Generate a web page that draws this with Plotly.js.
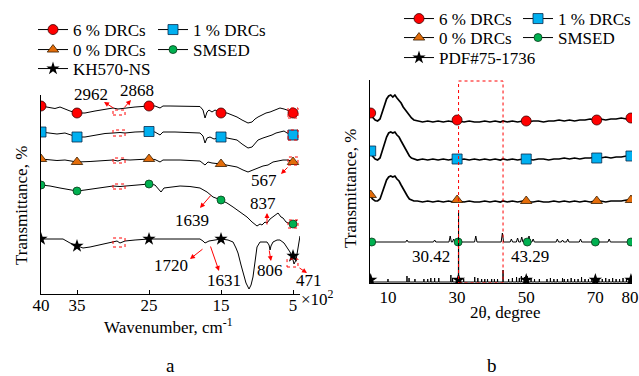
<!DOCTYPE html>
<html><head><meta charset="utf-8">
<script src="https://cdn.plot.ly/plotly-3.0.1.min.js"></script>
<style>html,body{margin:0;padding:0;background:#fff}#chart{width:639px;height:376px}</style>
</head><body><div id="chart"></div>
<script>
// ---------------- Panel a: FTIR (wavenumber, x10^2 cm^-1; stacked transmittance) ----------------
const ftirTicks = [40, 35, 25, 15, 5];
const ftirMarkX = [40, 35, 25, 15, 5];

const ftir6X = [40,38.75,38.06,37.36,36.67,35.97,35,33.89,32.5,31.11,30,29.31,28.33,26.94,25,24.17,23.47,23.06,22.08,20,17.92,17.5,17.22,16.94,16.67,16.25,15.83,15,14.17,13.47,12.78,12.08,11.25,10.69,10.28,9.86,9.31,8.75,8.19,7.5,6.81,6.25,5.83,5,4.44];
const ftir6Y = [188,186,185.5,187,185,183,181,181,183,185,186,185,186,187,188,188,186,188,188,188,187.5,184,176,182,184,182,184,181,181,179,177,174,171,172,175,177,179,181,182,184,186,185,184,181,179];
const ftir6M = [188,181,188,181,181];

const ftir1X = [40,38.75,37.78,36.67,35,33.89,32.5,31.11,30,29.03,28.33,26.94,25,24.17,23.47,23.06,21.39,17.92,17.5,17.22,16.94,16.53,15.97,15,14.17,13.47,12.78,12.08,11.25,10.69,10.28,9.86,9.17,8.61,7.92,7.36,6.81,6.25,5.83,5,4.44];
const ftir1Y = [162,161,160,161,157,157,159,160.5,161,161.5,161,162,162.5,162,159,162,162,161,158,151,156,157,155,157,156,155,154,150,146,147,151,154,156,157,159,161,162,163,161,159,154];
const ftir1M = [162,157,162.5,157,159];

const ftir0X = [40,38.75,37.78,36.67,35,33.19,31.11,30,29.31,28.75,27.64,25,24.17,23.47,23.06,20.69,17.92,17.5,17.22,16.81,16.25,15,13.75,12.78,11.94,11.25,10.56,9.86,9.17,8.47,7.78,7.08,6.39,5.69,5,4.44];
const ftir0Y = [135,134,133.5,134,132,132.5,133.5,134,133,134.5,134,135,134.5,132,134,134,133,131,129,132,131,130,128,127,124,122,124,126,128,129,132,133,134,134,132,131];
const ftir0M = [135,132,135,130,132];

const ftirSX = [40,38.75,37.36,35.97,35,33.89,32.5,31.11,30,29.03,27.64,26.25,25,24.17,23.75,23.33,22.92,22.08,20.69,19.31,17.92,16.94,16.11,15,14.17,13.33,12.36,11.39,10.69,10,9.58,9.31,8.89,8.61,8.19,7.78,7.36,7.08,6.67,6.39,5.97,5.69,5,4.44];
const ftirSY = [109,108,106,104,103,104,105.5,107,108,107.5,108.5,109.5,110,109,106,102,106,107,108,107.5,106,102,97,94,91,87,82,77,72,68,70,69,72,71,75,77,79,81,77,76,72,71,70,74];
const ftirSM = [109,103,110,94,70];

const ftirKX = [40,38.06,36.94,35.97,35,34.17,33.19,31.81,30.42,30,29.44,29.03,28.33,26.94,25,22.08,17.92,17.5,17.22,16.94,16.67,15.83,15,14.03,13.33,12.92,12.64,12.22,11.94,11.53,11.11,10.83,10.56,10.28,10,9.58,9.03,8.61,8.33,8.19,8.06,7.78,7.22,6.81,6.25,5.83,5.42,5.14,4.86,4.58,4.31,4.03];
const ftirKY = [55,55,55,51,48,46,47,49,51,52,53,51,53,54,55,55,55,53,51,52,53,54,55,54,52,46,41,29,21,11,5,9,17,32,47,52,52,52,49,44,48,52,54,54,51,47,42,38,30,34,44,58];
const ftirKM = [55,48,55,55,38];

// ---------------- Panel b: XRD (2theta, degree; stacked intensity) ----------------
const xrdTicks = [10, 30, 50, 70, 80];
const xrdAngle = [4.8,5.5,6.3,7.0,7.7,8.4,9.0,9.6,10.2,10.8,11.4,12.0,12.6,13.2,13.8,14.4,15.0,15.6,16.2,16.8,17.5,18.5,20,21.5,23,24.5,26,27.5,29,30.4,32,33.5,35,36.5,38,39.5,41,42.5,43.3,44.5,46,47.5,49,50.5,52,53.5,55,56.5,58,59.5,61,62.5,64,65.5,67,68.5,70,71.5,73,74.5,76,77.5,79,80.3];
const xrd6Y = [170,166,163,162,164,172,179,184,187,188,186,188,185,183,180,176,173,170,167,165,163,162,161,162,161,162,161,162,161,162,161,162,161,161,162,161,162,161,162,161,162,161,162,161,162,162,161,162,162,163,162,163,162,163,163,164,163,164,163,164,164,165,164,165];
const xrd1Y = [132,127,124,123,125,133,140,146,150,151,150,151,148,146,142,138,134,130,127,125,124,123,124,123,124,123,124,123,124,123,124,123,124,123,124,123,124,123,124,123,124,123,124,124,123,124,124,123,124,124,125,124,125,124,125,125,126,125,126,125,126,126,127,127];
const xrd0Y = [88,84,82,82,84,91,98,103,106,107,106,107,104,102,98,94,90,87,84,83,82,82,81,82,81,82,81,82,81,82,81,82,81,81,82,81,82,81,82,81,82,81,82,81,81,82,81,81,82,81,82,81,82,81,82,81,82,82,81,82,82,82,83,82];
const xrdMarkX = [5, 30, 50, 70.4, 80.3];
const xrd6M = [170,163,162,163,165];
const xrd1M = [132,124,124,125,127];
const xrd0M = [88,83,82,82,83];

const smsedBase = 41;
const smsedPeakX = [15.5,23.5,28.0,29.0,35.4,43.1,45.7,47.5,48.7,50.8,52.0,59.0,60.5,62.0,65.7,74.0];
const smsedPeakH = [2,2,6,3,6,9,3,4,5,6,3,3,2,3,3,3];
const smsedMarkX = [5.3, 30.3, 50.3, 70, 80.3];
const smsedMarkY = [41,41,41,41,41];

const pdfBase = 1;
const pdfX = [10.0,15.5,16.1,17.8,20.4,21.5,22.4,23.5,24.7,28.2,28.7,30.42,31.9,35.1,36.0,37.1,38.0,38.8,40.0,40.8,41.7,43.29,44.9,46.0,47.2,48.0,48.6,49.5,50.3,51.4,52.4,53.8,56,57,58,59,60.5,61,62,63,64,65,66,67,68,69,71,72,73,74,75,76,77,78,79];
const pdfH = [3,6,4,3,3,3,4,4,4,7,4,72,3,5,4,3,3,3,3,3,3,12,3,4,5,4,6,5,6,4,3,3,3,4,3,3,4,3,3,4,3,3,5,3,3,4,3,3,4,3,4,3,3,4,3];
const pdfMarkX = [5, 30.4, 50, 70, 80.3];
const pdfMarkY = [3,3,3,3,3];

const peakMarks = [30.42, 43.29];

// ---------------- build ----------------
const FONT = 'Liberation Serif, Times New Roman, serif';
const mk6 = {symbol:'circle', size:10, color:'#FF0000', line:{color:'#3a0000', width:0.8}};
const mk1 = {symbol:'square', size:10, color:'#00B0F0', line:{color:'#0b2a4a', width:0.8}};
const mk0 = {symbol:'triangle-up', size:10, color:'#E36C0A', line:{color:'#3a1e00', width:0.8}};
const mkS = {symbol:'circle', size:8, color:'#00B050', line:{color:'#0b3a1a', width:0.8}};
const mkK = {symbol:'star', size:10, color:'#000000', line:{width:0}};

function series(xs, ys, mx, my, name, mk, xa, ya, leg, lw) {
  return [
    {x: xs, y: ys, mode:'lines', line:{color:'#000', width:lw}, xaxis:xa, yaxis:ya, showlegend:false, hoverinfo:'skip'},
    {x: mx, y: my, mode:'markers', marker: mk, xaxis:xa, yaxis:ya, showlegend:false, hoverinfo:'skip'},
    {x:[null], y:[null], mode:'lines+markers', name:name, line:{color:'#000', width:1}, marker: mk,
     xaxis:xa, yaxis:ya, legend:leg, showlegend:true, hoverinfo:'skip'}
  ];
}
function sticks(px, ph, base, xmin, xmax, w) {
  const xs=[xmin], ys=[base];
  for (let i=0;i<px.length;i++){ xs.push(px[i]-w, px[i], px[i]+w); ys.push(base, base+ph[i], base); }
  xs.push(xmax); ys.push(base);
  return {xs, ys};
}
const sm = sticks(smsedPeakX, smsedPeakH, smsedBase, 4.8, 80.6, 0.35);
const pd = sticks(pdfX, pdfH, pdfBase, 4.8, 80.6, 0.05);

let data = [];
data = data.concat(series(ftir6X, ftir6Y, ftirMarkX, ftir6M, '6 % DRCs', mk6, 'x', 'y', 'legend2', 1));
data = data.concat(series(ftir1X, ftir1Y, ftirMarkX, ftir1M, '1 % DRCs', mk1, 'x', 'y', 'legend3', 1));
data = data.concat(series(ftir0X, ftir0Y, ftirMarkX, ftir0M, '0 % DRCs', mk0, 'x', 'y', 'legend4', 1));
data = data.concat(series(ftirSX, ftirSY, ftirMarkX, ftirSM, 'SMSED', mkS, 'x', 'y', 'legend5', 1));
data = data.concat(series(ftirKX, ftirKY, ftirMarkX, ftirKM, 'KH570-NS', mkK, 'x', 'y', 'legend6', 1));

data = data.concat(series(xrdAngle, xrd6Y, xrdMarkX, xrd6M, '6 % DRCs', mk6, 'x2', 'y2', 'legend7', 1.7));
data = data.concat(series(xrdAngle, xrd1Y, xrdMarkX, xrd1M, '1 % DRCs', mk1, 'x2', 'y2', 'legend8', 1.7));
data = data.concat(series(xrdAngle, xrd0Y, xrdMarkX, xrd0M, '0 % DRCs', mk0, 'x2', 'y2', 'legend9', 1.7));
data = data.concat(series(sm.xs, sm.ys, smsedMarkX, smsedMarkY, 'SMSED', mkS, 'x2', 'y2', 'legend10', 1));
data = data.concat(series(pd.xs, pd.ys, pdfMarkX, pdfMarkY, 'PDF#75-1736', mkK, 'x2', 'y2', 'legend11', 1));

// layout helpers (pixel -> paper)
const W = 639, H = 376;
const PX = p => p / W, PY = p => 1 - p / H;
const tf = {family: FONT, size: 17, color: '#000'};

function txt(t, x, y, extra) {
  return Object.assign({text:t, xref:'paper', yref:'paper', x:PX(x), y:PY(y), xanchor:'center', yanchor:'middle',
    showarrow:false, font:tf}, extra||{});
}
function arr(hx, hy, tx, ty) {
  return {text:'', xref:'paper', yref:'paper', x:PX(hx), y:PY(hy), ax:tx-hx, ay:ty-hy, showarrow:true,
    arrowhead:2, arrowsize:1, arrowwidth:1, arrowcolor:'#FF0000', standoff:0, startstandoff:0};
}
const annotations = [
  txt('2962', 91, 94), txt('2868', 137, 90),
  txt('567', 264, 180), txt('837', 263, 203), txt('1639', 192, 220), txt('1720', 171, 265),
  txt('1631', 224, 280), txt('806', 270, 270), txt('471', 309, 280),
  txt('×10<sup>2</sup>', 317, 298),
  txt('Wavenumber, cm<sup>-1</sup>', 168, 326),
  txt('2θ, degree', 505, 312),
  txt('Transmittance, %', 21, 206, {textangle:-90}),
  txt('Transmittance, %', 350, 189, {textangle:-90}),
  txt('30.42', 431, 256), txt('43.29', 530, 256),
  txt('a', 171, 365, {font:{family:FONT, size:19, color:'#000'}}),
  txt('b', 492, 365, {font:{family:FONT, size:19, color:'#000'}}),
  arr(104, 102, 115, 109), arr(131, 100, 123, 109),
  arr(281, 174, 289, 166), arr(267, 213, 267, 226), arr(200, 208, 212, 194),
  arr(190, 259, 204, 248), arr(219, 271, 210, 245), arr(271, 261, 269, 249), arr(307, 273, 298, 267)
];

const dashed = {color:'#FF0000', width:1, dash:'dot'};
function box(x0, x1, y0, y1) { return {type:'rect', xref:'x', yref:'y', x0, x1, y0, y1, line:dashed, layer:'above'}; }
const shapes = [
  box(30, 28.33, 179, 184), box(30, 28.33, 158, 164), box(30, 28.33, 131, 136), box(30, 28.33, 105, 110), box(30, 28.33, 47, 56),
  box(5.69, 4.31, 176, 186), box(5.69, 4.31, 154, 164), box(5.69, 4.31, 129, 137), box(5.69, 4.31, 66, 74), box(5.83, 4.31, 27, 35),
  {type:'rect', xref:'x2', yref:'y2', x0:peakMarks[0], x1:peakMarks[1], y0:0, y1:202, line:dashed, layer:'above'}
];

// one legend per entry: (left px, row-centre px)
function leg(x, yc) {
  return {orientation:'h', x:PX(x), y:PY(yc - 18), xanchor:'left', yanchor:'top', bgcolor:'rgba(0,0,0,0)',
    font:tf, itemwidth:30, tracegroupgap:0, borderwidth:0, itemclick:false};
}

const layout = {
  width: W, height: H, margin:{l:0, r:0, t:0, b:0},
  paper_bgcolor:'#fff', plot_bgcolor:'#fff', font: tf, showlegend:true,
  xaxis: {domain:[PX(41), PX(300)], range:[40, 4.03], tickvals: ftirTicks, ticks:'inside', ticklen:4, tickcolor:'#000',
    showline:true, linecolor:'#000', linewidth:1, showgrid:false, zeroline:false, tickfont:tf, anchor:'y',
    ticklabelstandoff:-4},
  yaxis: {domain:[PY(294), PY(95)], range:[0, 199], showline:true, linecolor:'#000', linewidth:1, showgrid:false,
    zeroline:false, showticklabels:false, ticks:'inside', tickvals:[199], ticklen:4, tickcolor:'#000', anchor:'x'},
  xaxis2: {domain:[PX(370), PX(632)], range:[4.8, 80.6], tickvals: xrdTicks, ticks:'', showline:true, linecolor:'#000',
    linewidth:1, showgrid:false, zeroline:false, tickfont:tf, anchor:'y2', ticklabelstandoff:-1},
  yaxis2: {domain:[PY(283), PY(80)], range:[0, 203], showline:true, linecolor:'#000', linewidth:1, showgrid:false,
    zeroline:false, showticklabels:false, ticks:'inside', tickvals:[203], ticklen:4, tickcolor:'#000', anchor:'x2'},
  legend2: leg(33, 30), legend3: leg(153, 30), legend4: leg(33, 50), legend5: leg(153, 50), legend6: leg(33, 69),
  legend7: leg(399, 19), legend8: leg(518, 19), legend9: leg(399, 38), legend10: leg(518, 38), legend11: leg(399, 58),
  annotations, shapes
};

Plotly.newPlot('chart', data, layout, {displayModeBar:false, staticPlot:true});
</script>
</body></html>
